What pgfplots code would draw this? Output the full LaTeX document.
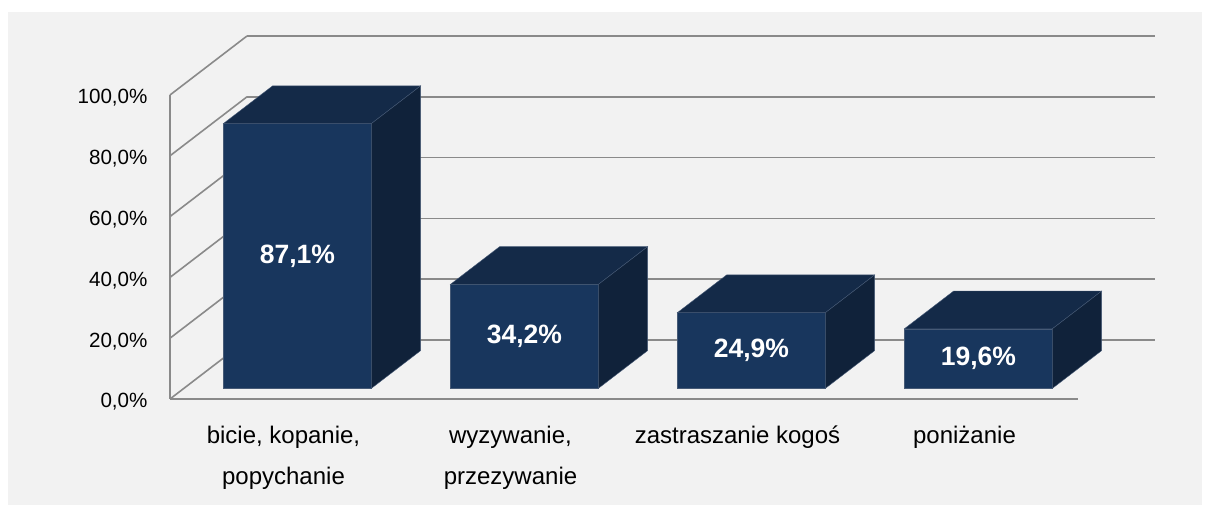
\documentclass[border=0pt]{standalone}
\usepackage{fontspec}
\setmainfont{Liberation Sans}
\usepackage{pgfplots}
\pgfplotsset{compat=1.18}
\definecolor{bgc}{RGB}{242,242,242}
\definecolor{gridc}{RGB}{138,138,138}
\definecolor{frontc}{RGB}{24,54,93}
\definecolor{topc}{RGB}{20,42,72}
\definecolor{sidec}{RGB}{16,34,58}
\definecolor{edgec}{RGB}{70,90,118}
\tikzset{
  grid3/.style={gridc, line width=1.6pt, mark=none},
  front/.style={fill=frontc, draw=edgec, line width=0.4pt, mark=none},
  top/.style={fill=topc, draw=edgec, line width=0.4pt, mark=none},
  side/.style={fill=sidec, draw=edgec, line width=0.4pt, mark=none},
  ticklab/.style={anchor=east, xshift=-19pt, yshift=-3pt, font=\fontsize{20.6}{24}\selectfont},
  catlab/.style={anchor=base, font=\fontsize{24}{28}\selectfont},
  vallab/.style={text=white, font=\fontsize{26.5}{30}\selectfont\bfseries},
}
\begin{document}
\begin{tikzpicture}
\path[use as bounding box] (0,0) rectangle (1210pt,510pt);
\fill[white] (0,0) rectangle (1210pt,510pt);
\fill[bgc] (8pt,5pt) rectangle (1202pt,498pt);
\begin{axis}[
  at={(170pt,111pt)}, anchor=origin,
  x={(227pt,0pt)}, y={(77pt,59pt)}, z={(0pt,3.04pt)},
  xmin=0, xmax=4, ymin=0, ymax=1, zmin=0, zmax=100,
  hide axis, clip=false,
]
% back wall gridlines
\addplot3[grid3] coordinates {(0,1,0) (4,1,0)};
\addplot3[grid3] coordinates {(0,1,20) (4,1,20)};
\addplot3[grid3] coordinates {(0,1,40) (4,1,40)};
\addplot3[grid3] coordinates {(0,1,60) (4,1,60)};
\addplot3[grid3] coordinates {(0,1,80) (4,1,80)};
\addplot3[grid3] coordinates {(0,1,100) (4,1,100)};
% left wall
\addplot3[grid3] coordinates {(0,0,0) (0,1,0)};
\addplot3[grid3] coordinates {(0,0,20) (0,1,20)};
\addplot3[grid3] coordinates {(0,0,40) (0,1,40)};
\addplot3[grid3] coordinates {(0,0,60) (0,1,60)};
\addplot3[grid3] coordinates {(0,0,80) (0,1,80)};
\addplot3[grid3] coordinates {(0,0,100) (0,1,100)};
\addplot3[grid3] coordinates {(0,0,0) (0,0,100)};
% front floor edge
\addplot3[grid3] coordinates {(0,0,0) (4,0,0)};
% bar 1: 87.1
\addplot3[front] coordinates {(0.174,0.18,0) (0.826,0.18,0) (0.826,0.18,87.1) (0.174,0.18,87.1)} --cycle;
\addplot3[top] coordinates {(0.174,0.18,87.1) (0.826,0.18,87.1) (0.826,0.82,87.1) (0.174,0.82,87.1)} --cycle;
\addplot3[side] coordinates {(0.826,0.18,0) (0.826,0.82,0) (0.826,0.82,87.1) (0.826,0.18,87.1)} --cycle;
% bar 2: 34.2
\addplot3[front] coordinates {(1.174,0.18,0) (1.826,0.18,0) (1.826,0.18,34.2) (1.174,0.18,34.2)} --cycle;
\addplot3[top] coordinates {(1.174,0.18,34.2) (1.826,0.18,34.2) (1.826,0.82,34.2) (1.174,0.82,34.2)} --cycle;
\addplot3[side] coordinates {(1.826,0.18,0) (1.826,0.82,0) (1.826,0.82,34.2) (1.826,0.18,34.2)} --cycle;
% bar 3: 24.9
\addplot3[front] coordinates {(2.174,0.18,0) (2.826,0.18,0) (2.826,0.18,24.9) (2.174,0.18,24.9)} --cycle;
\addplot3[top] coordinates {(2.174,0.18,24.9) (2.826,0.18,24.9) (2.826,0.82,24.9) (2.174,0.82,24.9)} --cycle;
\addplot3[side] coordinates {(2.826,0.18,0) (2.826,0.82,0) (2.826,0.82,24.9) (2.826,0.18,24.9)} --cycle;
% bar 4: 19.6
\addplot3[front] coordinates {(3.174,0.18,0) (3.826,0.18,0) (3.826,0.18,19.6) (3.174,0.18,19.6)} --cycle;
\addplot3[top] coordinates {(3.174,0.18,19.6) (3.826,0.18,19.6) (3.826,0.82,19.6) (3.174,0.82,19.6)} --cycle;
\addplot3[side] coordinates {(3.826,0.18,0) (3.826,0.82,0) (3.826,0.82,19.6) (3.826,0.18,19.6)} --cycle;
% value labels
\node[vallab] at (axis cs:0.5,0.18,43.55) {87,1\%};
\node[vallab] at (axis cs:1.5,0.18,17.1) {34,2\%};
\node[vallab] at (axis cs:2.5,0.18,12.45) {24,9\%};
\node[vallab] at (axis cs:3.5,0.18,9.8) {19,6\%};
% tick labels
\node[ticklab] at (axis cs:0,0,0) {0,0\%};
\node[ticklab] at (axis cs:0,0,20) {20,0\%};
\node[ticklab] at (axis cs:0,0,40) {40,0\%};
\node[ticklab] at (axis cs:0,0,60) {60,0\%};
\node[ticklab] at (axis cs:0,0,80) {80,0\%};
\node[ticklab] at (axis cs:0,0,100) {100,0\%};
% category labels
\node[catlab, yshift=-45pt] at (axis cs:0.5,0,0) {bicie, kopanie,};
\node[catlab, yshift=-86pt] at (axis cs:0.5,0,0) {popychanie};
\node[catlab, yshift=-45pt] at (axis cs:1.5,0,0) {wyzywanie,};
\node[catlab, yshift=-86pt] at (axis cs:1.5,0,0) {przezywanie};
\node[catlab, yshift=-45pt] at (axis cs:2.5,0,0) {zastraszanie kogoś};
\node[catlab, yshift=-45pt] at (axis cs:3.5,0,0) {poniżanie};
\end{axis}
\end{tikzpicture}
\end{document}
